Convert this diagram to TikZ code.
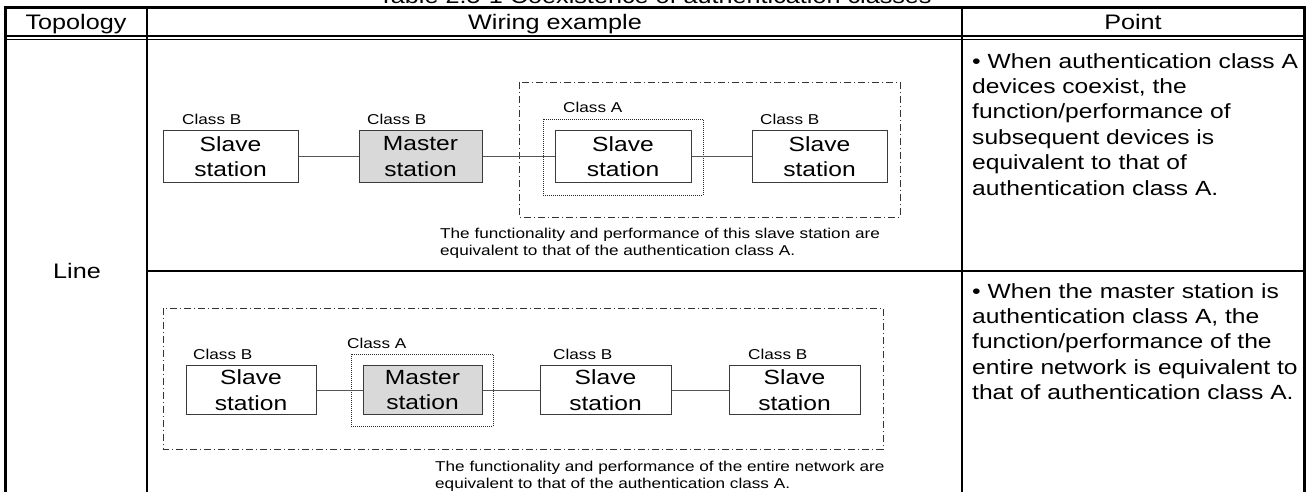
\documentclass[tikz,border=0pt]{standalone}
\usepackage{fontspec}
\setmainfont{Liberation Sans}[FakeStretch=1.2]
\usetikzlibrary{calc}
\definecolor{boxline}{HTML}{3A3A3A}
\definecolor{wire}{HTML}{555555}
\definecolor{masterfill}{HTML}{D9D9D9}
\newcommand{\bigfont}{\fontsize{20.5}{25.4}\selectfont}
\newcommand{\headfont}{\fontsize{21}{25}\selectfont}
\newcommand{\smallfont}{\fontsize{14.3}{17}\selectfont}
\tikzset{
  outerrule/.style={line width=3pt, black},
  innerrule/.style={line width=1.8pt, black},
  station/.style={draw=boxline, line width=1pt, align=center, inner sep=0pt, font=\bigfont},
  masterbox/.style={station, fill=masterfill},
  classlbl/.style={anchor=base west, inner sep=0pt, font=\smallfont},
  wireline/.style={draw=wire, line width=1pt},
  regionbox/.style={draw=black!80, line width=0.8pt, dash pattern=on 7pt off 3pt on 1pt off 3pt},
  dotbox/.style={draw=black!85, line width=0.8pt, dash pattern=on 1pt off 1pt},
  caption/.style={anchor=base west, inner sep=0pt, align=left, font=\smallfont},
  pointtxt/.style={anchor=north west, inner sep=0pt, align=left, font=\bigfont},
  headtxt/.style={anchor=base, inner sep=0pt, font=\headfont}
}
\begin{document}
\begin{tikzpicture}[x=1pt, y=-1pt]
\useasboundingbox (0,0) rectangle (1309,492);
% title (cut off at top, as in the reference)
\node[anchor=base, inner sep=0pt, font=\headfont] (title) at (655,4) {Table 2.5-1 Coexistence of authentication classes};
% table rules
\draw[outerrule] (3.5,8) -- (1305.5,8);
\draw[outerrule] (5,6.5) -- (5,492);
\draw[outerrule] (1304,6.5) -- (1304,492);
\draw[innerrule] (147,8) -- (147,492);
\draw[innerrule] (962,8) -- (962,492);
\draw[line width=1.3pt] (5,36) -- (1304,36);
\draw[line width=1.3pt] (5,39.5) -- (1304,39.5);
\draw[innerrule] (147,271) -- (1304,271);
% header
\node[headtxt] (hTop) at (76,30) {Topology};
\node[headtxt] (hWire) at (555,30) {Wiring example};
\node[headtxt] (hPoint) at (1133,30) {Point};
\node[anchor=base, inner sep=0pt, font=\headfont] (line) at (77,278) {Line};
% ---------- row 1 ----------
\draw[regionbox] (519,82) rectangle (900,217);
\draw[dotbox] (543,119) rectangle (703,195);
\node[station, minimum width=135pt, minimum height=51pt] (a1) at (230.5,156.5) {Slave\\station};
\node[masterbox, minimum width=123pt, minimum height=51pt] (a2) at (420.5,156.5) {Master\\station};
\node[station, minimum width=136pt, minimum height=51pt] (a3) at (623,156.5) {Slave\\station};
\node[station, minimum width=135pt, minimum height=51pt] (a4) at (819.5,156.5) {Slave\\station};
\draw[wireline] (a1.east) -- (a2.west);
\draw[wireline] (a2.east) -- (a3.west);
\draw[wireline] (a3.east) -- (a4.west);
\node[classlbl] (la1) at (182,125) {Class B};
\node[classlbl] (la2) at (367,125) {Class B};
\node[classlbl] (la3) at (563,113) {Class A};
\node[classlbl] (la4) at (760,125) {Class B};
\node[caption] (ca) at (440,255) {The functionality and performance of this slave station are\\equivalent to that of the authentication class A.};
\node[pointtxt] (pa) at (972,53) {• When authentication class A\\devices coexist, the\\function/performance of\\subsequent devices is\\equivalent to that of\\authentication class A.};
% ---------- row 2 ----------
\draw[regionbox] (163,308) rectangle (883,449);
\draw[dotbox] (351,354) rectangle (493,426);
\node[station, minimum width=130pt, minimum height=49pt] (b1) at (251,390) {Slave\\station};
\node[masterbox, minimum width=119pt, minimum height=49pt] (b2) at (422.5,390) {Master\\station};
\node[station, minimum width=131pt, minimum height=49pt] (b3) at (605.5,390) {Slave\\station};
\node[station, minimum width=131pt, minimum height=49pt] (b4) at (794.5,390) {Slave\\station};
\draw[wireline] (b1.east) -- (b2.west);
\draw[wireline] (b2.east) -- (b3.west);
\draw[wireline] (b3.east) -- (b4.west);
\node[classlbl] (lb1) at (193,359) {Class B};
\node[classlbl] (lb2) at (347,348) {Class A};
\node[classlbl] (lb3) at (553,359) {Class B};
\node[classlbl] (lb4) at (748,359) {Class B};
\node[caption] (cb) at (435,488) {The functionality and performance of the entire network are\\equivalent to that of the authentication class A.};
\node[pointtxt] (pb) at (972,283) {• When the master station is\\authentication class A, the\\function/performance of the\\entire network is equivalent to\\that of authentication class A.};
\end{tikzpicture}
\end{document}
